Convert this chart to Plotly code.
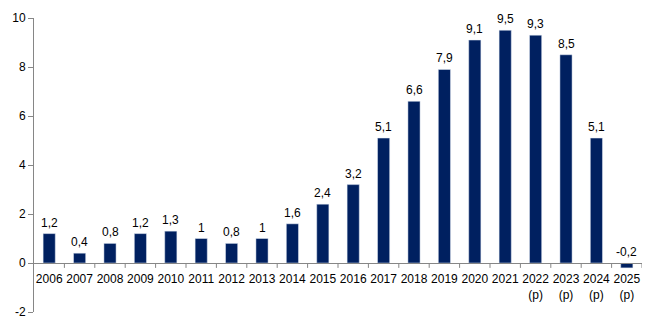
import plotly.graph_objects as go

categories = ["2006", "2007", "2008", "2009", "2010", "2011", "2012", "2013", "2014", "2015",
              "2016", "2017", "2018", "2019", "2020", "2021", "2022<br>(p)", "2023<br>(p)",
              "2024<br>(p)", "2025<br>(p)"]
values = [1.2, 0.4, 0.8, 1.2, 1.3, 1.0, 0.8, 1.0, 1.6, 2.4,
          3.2, 5.1, 6.6, 7.9, 9.1, 9.5, 9.3, 8.5, 5.1, -0.2]
y_ticks = [-2, 0, 2, 4, 6, 8, 10]

def fmt(v):
    return ("%g" % v).replace(".", ",")

idx = list(range(len(categories)))

fig = go.Figure()
fig.add_trace(go.Bar(x=idx, y=values, marker_color="#002060", width=0.4,
                     hoverinfo="skip"))

for i, v in zip(idx, values):
    fig.add_annotation(x=i, y=max(v, 0), text=fmt(v), showarrow=False,
                       yanchor="bottom", yshift=2,
                       font=dict(family="Liberation Sans, Arial", size=12, color="#000"))

fig.update_layout(
    width=653, height=330,
    margin=dict(l=34, r=11, t=15, b=15),
    plot_bgcolor="white", paper_bgcolor="white",
    showlegend=False,
    font=dict(family="Liberation Sans, Arial", size=12, color="#000"),
    xaxis=dict(range=[-0.5, len(categories) - 0.5], tickvals=idx, ticktext=categories,
               anchor="free", position=1/6, showline=True, tickangle=0,
               linecolor="#868686", linewidth=1, ticks="", showgrid=False, zeroline=False,
               ticklabelstandoff=5, tickfont=dict(size=12)),
    yaxis=dict(range=[-2, 10], tickvals=y_ticks, ticktext=[str(t) for t in y_ticks],
               showline=True, linecolor="#868686",
               linewidth=1, ticks="outside", ticklen=5, tickcolor="#868686",
               showgrid=False, zeroline=False, tickfont=dict(size=12)),
)

# boundary tick marks on the x axis
for b in range(1, len(categories) + 1):
    fig.add_shape(type="line", xref="x", yref="y", x0=b - 0.5, x1=b - 0.5, y0=0, y1=-0.2,
                  line=dict(color="#868686", width=1))

fig.write_html("out.html")
